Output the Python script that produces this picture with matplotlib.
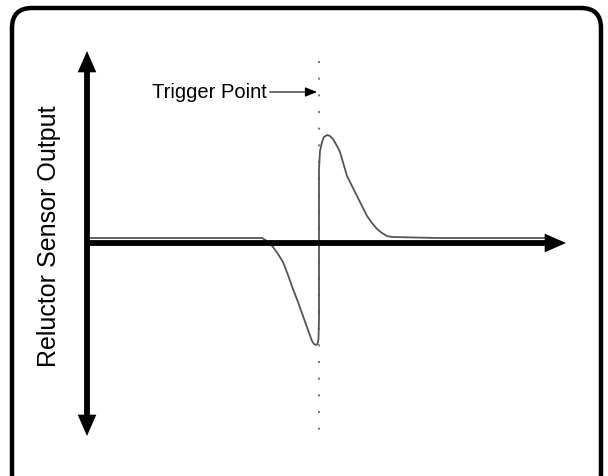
import numpy as np
import matplotlib.pyplot as plt
from matplotlib.patches import FancyBboxPatch

plt.rcParams['font.family'] = ['Liberation Sans', 'DejaVu Sans']

# Форма сигнала датчика (время, выход)
t = [2, 60, 120, 174, 179, 185, 190, 195, 200, 205, 210, 215, 220, 224, 226, 228,
     229.5, 230.5, 231, 231, 232, 234, 236, 239, 242, 245, 249, 252, 259, 264, 269,
     274, 279, 284, 289, 294, 299, 304, 350, 400, 460]
v = [6, 6, 6, 6, 3, -3, -10, -18, -31, -45, -58, -72, -86, -97, -100, -101,
     -100, -95, -75, 75, 93, 102, 107, 109, 108, 105, 98, 92, 68, 58, 48,
     38, 28, 21, 15, 11, 8, 7, 6, 6, 6]

trigger_t = 231
label_y = 'Reluctor Sensor Output'
label_trigger = 'Trigger Point'

fig = plt.figure(figsize=(6.08, 4.77), dpi=100)
ax = fig.add_axes([0, 0, 1, 1])
ax.set_xlim(-88, 520)
ax.set_ylim(-232, 245)
ax.axis('off')

# Рамка со скруглёнными углами
frame = FancyBboxPatch((-76, -250), 589, 486,
                       boxstyle='round,pad=0,rounding_size=20',
                       fill=False, edgecolor='black', linewidth=3.2)
ax.add_patch(frame)

# Пунктир точки срабатывания
ax.plot([trigger_t, trigger_t], [183, -187], color='#808080', linewidth=1.5,
        linestyle=(0, (1, 7)))

# Сигнал
ax.plot(t, v, color='#555555', linewidth=1.3)

# Оси
arrow_kw = dict(mutation_scale=10, lw=4.2, color='black', shrinkA=0, shrinkB=0,
                joinstyle='miter', capstyle='butt')
ax.annotate('', xy=(478, 1), xytext=(-2, 1),
            arrowprops=dict(arrowstyle='-|>,head_length=0.8,head_width=0.35', **arrow_kw))
ax.annotate('', xy=(-1, -192), xytext=(-1, 193),
            arrowprops=dict(arrowstyle='<|-|>,head_length=0.8,head_width=0.35', **arrow_kw))

# Подписи
ax.text(-39, 9, label_y, rotation=90, fontsize=18, ha='center', va='center')
ax.annotate(label_trigger, xy=(229, 152), xytext=(64, 152),
            fontsize=14.5, va='center', ha='left',
            arrowprops=dict(arrowstyle='-|>,head_length=0.5,head_width=0.2',
                            lw=0.8, color='black', shrinkA=0, shrinkB=0))

fig.savefig('out.png', dpi=100)
